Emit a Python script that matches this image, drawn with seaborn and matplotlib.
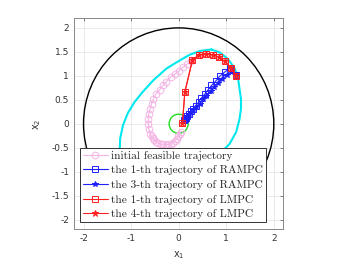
import numpy as np
import pandas as pd
import matplotlib
matplotlib.use("Agg")
import matplotlib.pyplot as plt
import seaborn as sns
from matplotlib.patches import Circle

# ---------------- data ----------------
cyan_x = [0.69, 0.86, 1.04, 1.18, 1.25, 1.28, 1.31, 1.31, 1.28, 1.21, 1.07, 0.90,
          0.78, 0.55, 0.20, -0.20, -0.50, -0.80, -1.05, -1.20, -1.25, -1.24,
          -1.23, -1.17, -1.07, -0.93, -0.76, -0.54, -0.26, 0.02, 0.23, 0.45, 0.69]
cyan_y = [1.55, 1.49, 1.35, 1.15, 0.94, 0.73, 0.52, 0.31, 0.10, -0.17, -0.42, -0.59,
          -0.73, -0.95, -1.20, -1.45, -1.55, -1.50, -1.30, -1.00, -0.75, -0.59,
          -0.31, -0.03, 0.22, 0.45, 0.66, 0.90, 1.15, 1.32, 1.44, 1.52, 1.55]

init_x = [0.25, 0.18, 0.09, 0.01, -0.08, -0.17, -0.26, -0.33, -0.40, -0.47, -0.53,
          -0.57, -0.60, -0.63, -0.64, -0.64, -0.63, -0.60, -0.57, -0.54, -0.51, -0.47,
          -0.43, -0.38, -0.33, -0.27, -0.22, -0.17, -0.12, -0.08, -0.04, -0.01, 0.02, 0.04]
init_y = [1.30, 1.25, 1.18, 1.11, 1.04, 0.97, 0.88, 0.80, 0.71, 0.63, 0.52,
          0.42, 0.31, 0.21, 0.10, 0.00, -0.10, -0.21, -0.26, -0.30, -0.34, -0.37,
          -0.40, -0.42, -0.43, -0.44, -0.43, -0.42, -0.39, -0.35, -0.31, -0.26, -0.21, -0.17]

ramp1_x = [1.20, 1.07, 0.97, 0.86, 0.78, 0.69, 0.62, 0.55, 0.48, 0.42, 0.36, 0.30,
           0.25, 0.21, 0.18, 0.15, 0.13, 0.12]
ramp1_y = [1.01, 1.16, 1.08, 0.99, 0.89, 0.80, 0.71, 0.62, 0.54, 0.45, 0.38, 0.31,
           0.26, 0.21, 0.16, 0.12, 0.10, 0.08]

ramp3_x = [1.20, 1.11, 1.02, 0.92, 0.83, 0.74, 0.67, 0.58, 0.51, 0.44, 0.37, 0.31,
           0.26, 0.22, 0.18, 0.15, 0.13, 0.12]
ramp3_y = [1.01, 1.08, 1.01, 0.94, 0.85, 0.76, 0.68, 0.59, 0.51, 0.42, 0.35, 0.29,
           0.24, 0.20, 0.16, 0.13, 0.11, 0.10]

lmpc1_x = [1.21, 1.11, 0.97, 0.85, 0.72, 0.58, 0.43, 0.29, 0.13, 0.08]
lmpc1_y = [1.00, 1.16, 1.30, 1.39, 1.44, 1.46, 1.44, 1.33, 0.66, 0.02]

lmpc4_x = [1.21, 1.11, 0.97, 0.85, 0.72, 0.58, 0.43, 0.29, 0.13, 0.08]
lmpc4_y = [1.00, 1.16, 1.30, 1.39, 1.44, 1.46, 1.44, 1.33, 0.66, 0.02]

outer_radius = 2.0
target_radius = 0.2

labels = ["initial feasible trajectory",
          "the 1-th trajectory of RAMPC",
          "the 3-th trajectory of RAMPC",
          "the 1-th trajectory of LMPC",
          "the 4-th trajectory of LMPC"]

xticks = [-2, -1, 0, 1, 2]
yticks = [-2, -1.5, -1, -0.5, 0, 0.5, 1, 1.5, 2]
ytick_labels = ["-2", "-1.5", "-1", "-0.5", "0", "0.5", "1", "1.5", "2"]
xtick_labels = ["-2", "-1", "0", "1", "2"]

# ---------------- plot ----------------
sns.set_style("white")
plt.rcParams['font.family'] = ['DejaVu Sans']

fig = plt.figure(figsize=(3.46, 2.60), dpi=100)
ax = fig.add_axes([74/346, 1-229.3/260, 209.3/346, 211/260])

ax.add_patch(Circle((0, 0), outer_radius, fill=False, color='black', lw=1.0, zorder=2))

cyan_df = pd.DataFrame({"x": cyan_x, "y": cyan_y})
sns.lineplot(data=cyan_df, x="x", y="y", sort=False, estimator=None, ax=ax,
             color='#00e8ee', lw=1.5, zorder=3)

ax.add_patch(Circle((0, 0), target_radius, fill=False, color='#22dd22', lw=1.0, zorder=3))

pink = '#f4b4e4'
traj = [
    (init_x, init_y, pink, 'o', 4.8, 'none', labels[0]),
    (ramp1_x, ramp1_y, '#2020ff', 's', 3.8, 'none', labels[1]),
    (ramp3_x, ramp3_y, '#2020ff', '*', 4.2, '#2020ff', labels[2]),
    (lmpc1_x, lmpc1_y, '#ff2020', 's', 4.0, 'none', labels[3]),
    (lmpc4_x, lmpc4_y, '#ff2020', '*', 4.5, '#ff2020', labels[4]),
]
for i, (tx, ty, col, mk, ms, mfc, lab) in enumerate(traj):
    df = pd.DataFrame({"x": tx, "y": ty})
    sns.lineplot(data=df, x="x", y="y", sort=False, estimator=None, ax=ax,
                 color=col, lw=0.8, marker=mk, markersize=ms,
                 markerfacecolor=mfc, markeredgecolor=col, markeredgewidth=0.7,
                 label=lab, zorder=4 + i)

ax.set_xlim(-2.2, 2.2)
ax.set_ylim(-2.2, 2.2)
ax.set_xticks(xticks)
ax.set_xticklabels(xtick_labels)
ax.set_yticks(yticks)
ax.set_yticklabels(ytick_labels)
ax.grid(True, color='#e6e6e6', lw=0.6)
ax.set_axisbelow(True)
ax.tick_params(direction='in', length=2.5, width=0.5, colors='#555555',
               labelsize=6.5, labelcolor='#333333', top=True, right=True)
for s in ax.spines.values():
    s.set_color('#888888')
    s.set_linewidth(0.7)

ax.set_xlabel("x$_1$", fontsize=7, color='#333333', labelpad=4)
ax.set_ylabel("x$_2$", fontsize=7, color='#333333', labelpad=6)

leg = ax.legend(loc='lower left', bbox_to_anchor=(0.029, 0.035), fancybox=False,
                framealpha=1, edgecolor='#333333', prop={'family': 'cmr10', 'size': 8.2},
                handlelength=2.2, handletextpad=0.3, labelspacing=0.4,
                borderpad=0.25, borderaxespad=0)
leg.get_frame().set_linewidth(0.7)
leg.set_zorder(20)

fig.savefig("out.png", dpi=100)
